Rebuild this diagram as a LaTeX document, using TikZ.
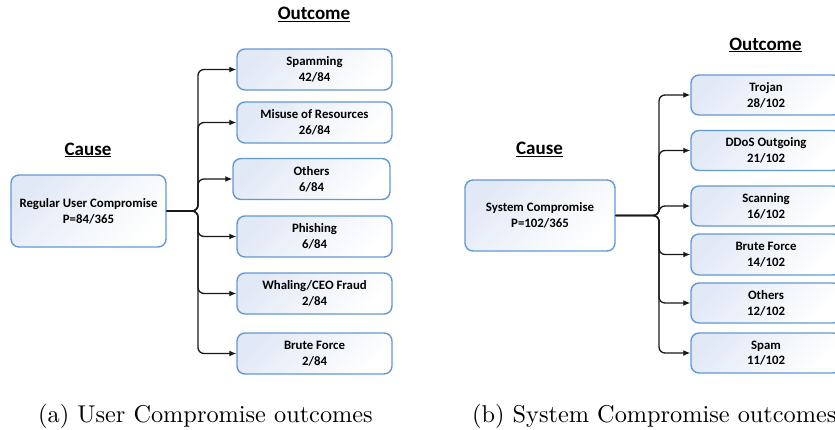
\documentclass[tikz,border=0pt]{standalone}
\usepackage{fontspec}
\newfontfamily\boxfont{Carlito}
\newfontfamily\capfont{lmroman10-regular}[Extension=.otf]
\usetikzlibrary{arrows.meta}
\definecolor{bordc}{RGB}{98,153,212}
\definecolor{fillc}{RGB}{226,233,246}
\tikzset{
  obox/.style={draw=bordc, line width=1.4pt, rounded corners=8pt,
    top color=fillc, bottom color=white, shading angle=45,
    inner sep=0pt, align=center, font=\boxfont\bfseries\fontsize{12.8}{15.8}\selectfont},
  ttl/.style={anchor=base, inner sep=0pt, font=\boxfont\bfseries\fontsize{19}{22}\selectfont},
  captxt/.style={anchor=base west, inner sep=0pt, font=\capfont\fontsize{24.3}{29}\selectfont},
  conn/.style={draw=black!90, line width=1.3pt, rounded corners=6pt, -{Latex[length=7pt,width=6pt]}}
}
\begin{document}
\begin{tikzpicture}[x=1pt,y=-1pt]
\useasboundingbox (0,0) rectangle (835,429);
\clip (0,0) rectangle (835,429);
\fill[white] (0,0) rectangle (835,429);

% ---------- (a) ----------
\node[ttl] (outA) at (314,19.5) {\underline{Outcome}};
\node[ttl] (causeA) at (88,155) {\underline{Cause}};
\node[obox, minimum width=155pt, minimum height=72pt] (ca) at (88.5,211) {Regular User Compromise\\P=84/365};
\node[obox, minimum width=155pt, minimum height=41pt] (a1) at (314.5,69.5) {Spamming\\42/84};
\node[obox, minimum width=155pt, minimum height=41pt] (a2) at (314.5,122.5) {Misuse of Resources\\26/84};
\node[obox, minimum width=157pt, minimum height=41pt] (a3) at (311.5,179) {Others\\6/84};
\node[obox, minimum width=155pt, minimum height=41pt] (a4) at (314.5,236.5) {Phishing\\6/84};
\node[obox, minimum width=155pt, minimum height=41pt] (a5) at (314.5,293.5) {Whaling/CEO Fraud\\2/84};
\node[obox, minimum width=155pt, minimum height=41pt] (a6) at (314.5,353.5) {Brute Force\\2/84};
\coordinate (ja) at (198,211);
\foreach \t in {a1,a2,a3,a4,a5,a6}{
  \draw[conn] (ca.east) -- (ja) |- (\t.west);
}
\node[captxt] (capA) at (38,422) {(a) User Compromise outcomes};

% ---------- (b) ----------
\node[ttl] (outB) at (765.5,50) {\underline{Outcome}};
\node[ttl] (causeB) at (539.5,154.5) {\underline{Cause}};
\node[obox, minimum width=150pt, minimum height=71pt] (cb) at (540,215.5) {System Compromise\\P=102/365};
\node[obox, minimum width=150pt, minimum height=40pt] (b1) at (766,95) {Trojan\\28/102};
\node[obox, minimum width=150pt, minimum height=40pt] (b2) at (766,150.5) {DDoS Outgoing\\21/102};
\node[obox, minimum width=150pt, minimum height=40pt] (b3) at (766,206) {Scanning\\16/102};
\node[obox, minimum width=150pt, minimum height=41pt] (b4) at (766,254.5) {Brute Force\\14/102};
\node[obox, minimum width=150pt, minimum height=40pt] (b5) at (766,303) {Others\\12/102};
\node[obox, minimum width=150pt, minimum height=40pt] (b6) at (766,353) {Spam\\11/102};
\coordinate (jb) at (659,215.5);
\foreach \t in {b1,b2,b3,b4,b5,b6}{
  \draw[conn] (cb.east) -- (jb) |- (\t.west);
}
\node[captxt] (capB) at (472,422) {(b) System Compromise outcomes};
\end{tikzpicture}
\end{document}
